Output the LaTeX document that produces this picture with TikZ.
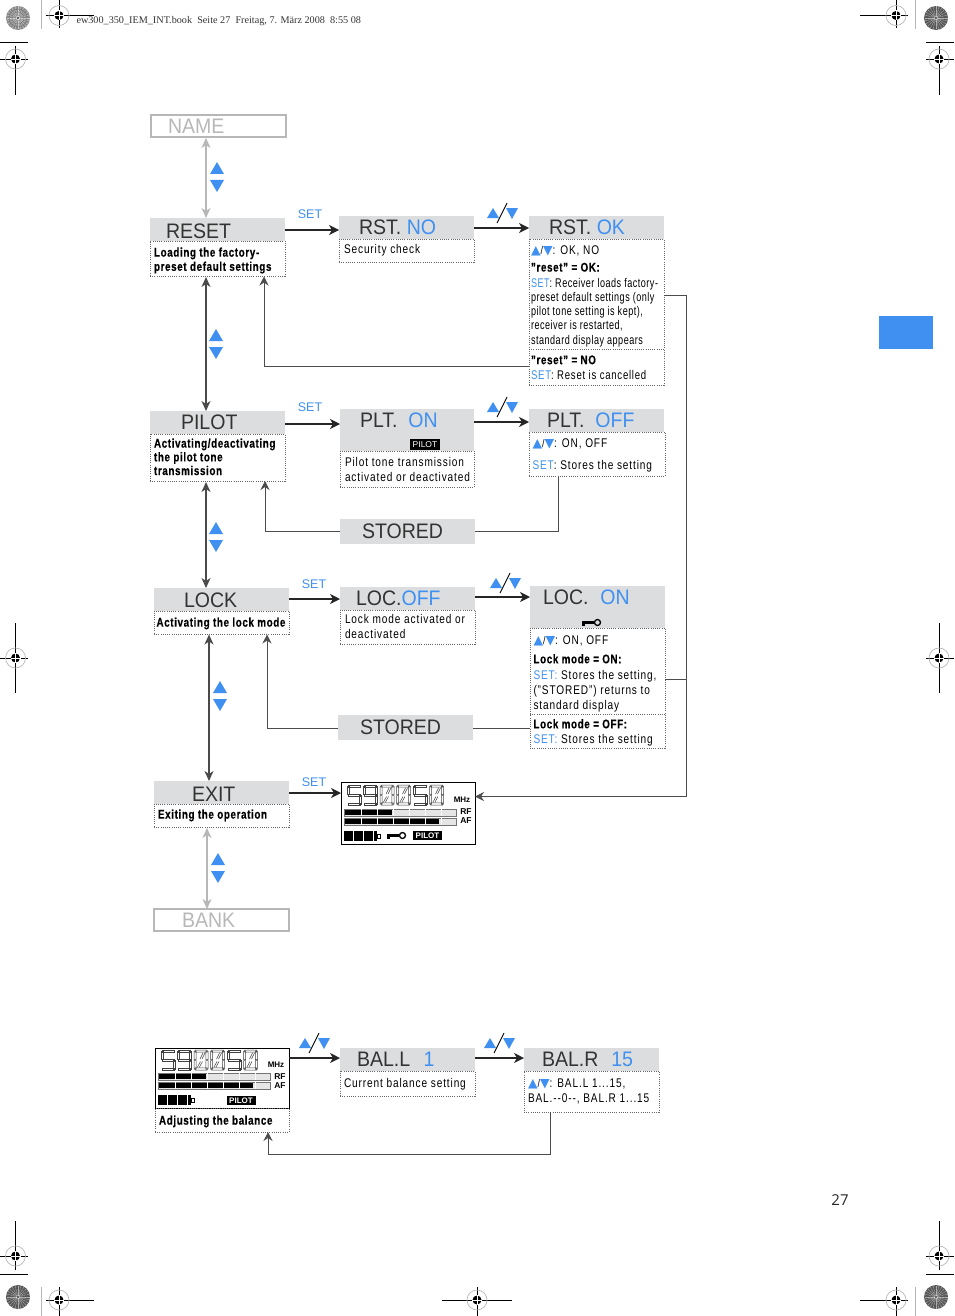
\documentclass[tikz,border=0pt]{standalone}
\usepackage{fontspec}
\usetikzlibrary{arrows.meta}
\setmainfont[FakeStretch=0.8,LetterSpace=7,BoldFeatures={FakeStretch=0.78,LetterSpace=5,FakeBold=0.4}]{Liberation Sans}
\newfontfamily\tightfont[FakeStretch=0.72,LetterSpace=4]{Liberation Sans}
\newfontfamily\medfont[FakeStretch=0.76,LetterSpace=6]{Liberation Sans}
\newfontfamily\ttlfont[FakeStretch=0.93]{Liberation Sans}
\newfontfamily\plainfont{Liberation Sans}
\newfontfamily\serfont{Liberation Serif}
\newfontfamily\symfont{DejaVu Sans}
\newfontfamily\numfont{Open Sans}
\definecolor{lb}{HTML}{3F90F0}
\definecolor{hdrg}{HTML}{DCDDDF}
\definecolor{lg}{HTML}{B7B7B7}
\definecolor{dk}{HTML}{4A4A4A}
\tikzset{
 every node/.style={outer sep=0pt},
 hdrbox/.style={fill=hdrg,inner sep=0pt,anchor=north west,text=black!80},
 ghostbox/.style={draw=lg,line width=1.6pt,inner sep=0pt,anchor=north west,text=lg},
 descbox/.style={draw=black!60,line width=.7pt,dash pattern=on 1pt off 1.2pt,inner sep=0pt,anchor=north west},
 setlab/.style={text=lb,inner sep=0pt,font=\plainfont\fontsize{12.5}{14}\selectfont},
 arr/.style={line width=1.1pt,black!85,-{Stealth[length=10pt,width=10pt,inset=3pt]}},
 darr/.style={line width=1.4pt,dk,{Stealth[length=10pt,width=9pt,inset=3pt]}-{Stealth[length=10pt,width=9pt,inset=3pt]}},
 garr/.style={line width=1.1pt,lg,{Stealth[length=10pt,width=9pt,inset=3pt]}-{Stealth[length=10pt,width=9pt,inset=3pt]}},
 loopline/.style={line width=.9pt,black!70},
 looparr/.style={line width=.9pt,black!70,-{Stealth[length=9pt,width=9pt,inset=3pt]}},
 regl/.style={line width=.9pt,black},
 lcdbox/.style={draw=black,line width=1pt,fill=white,inner sep=0pt,anchor=north west},
 inv/.style={fill=black,text=white,inner sep=0pt,font=\plainfont\bfseries\fontsize{8}{9}\selectfont},
}
\newcommand{\Ttl}[2]{\hspace*{#1pt}{\ttlfont\fontsize{21}{23}\selectfont #2}}
\newcommand{\Blue}[1]{\textcolor{lb}{#1}}
% [vspace] name x y w h pad text
\newcommand{\Hd}[7][4]{\node[hdrbox] (#2) at (#3,#4) {\parbox[t][#6pt][t]{#5pt}{\vspace*{#1pt}\noindent\Ttl{#7}}};}
\newcommand{\HdT}[8][4]{\node[hdrbox] (#2) at (#3,#4) {\parbox[t][#6pt][t]{#5pt}{\vspace*{#1pt}\noindent\Ttl{#7}{#8}}};}
\newcommand{\Gh}[7]{\node[ghostbox] (#1) at (#2,#3) {\parbox[t][#5pt][t]{#4pt}{\vspace*{4pt}\noindent\Ttl{#6}{#7}}};}
% name x y w h padx pady text
\newcommand{\Ds}[8]{\node[descbox] (#1) at (#2,#3) {\parbox[t][#5pt][t]{#4pt}{\vspace*{#7pt}\raggedright\leftskip=#6pt\rightskip=-30pt plus 1fil\parindent=0pt\lineskiplimit=-8pt\fontsize{12.6}{14.2}\selectfont #8\par}};}
\newcommand{\Tri}{{\color{lb}\symfont\fontsize{12.5}{10}\selectfont ▲}{\fontsize{11}{11}\selectfont/}{\color{lb}\symfont\fontsize{12.5}{10}\selectfont ▼}}
\newcommand{\UD}[2]{%
 \fill[lb] (#1-7,#2+12) -- (#1+7,#2+12) -- (#1,#2) -- cycle;
 \fill[lb] (#1-7,#2+18) -- (#1+7,#2+18) -- (#1,#2+30) -- cycle;}
\newcommand{\Pair}[2]{%
 \fill[lb] (#1,#2+10) -- (#1+12,#2+10) -- (#1+6,#2) -- cycle;
 \draw[black,line width=.9pt] (#1+10,#2+15) -- (#1+20,#2-5);
 \fill[lb] (#1+19,#2) -- (#1+31,#2) -- (#1+25,#2+11) -- cycle;}
\newcommand{\KeyIcon}[2]{%
 \fill[black] (#1,#2+2) rectangle (#1+12,#2+5);
 \fill[black] (#1,#2+2) rectangle (#1+3,#2+7);
 \draw[black,line width=1.3pt] (#1+15.5,#2+3.5) circle (3pt);}
\newcommand{\sT}{(1,0) rectangle (13,2.2)}
\newcommand{\sM}{(1,9) rectangle (13,11.2)}
\newcommand{\sB}{(1,17.8) rectangle (13,20)}
\newcommand{\sUL}{(0,1) rectangle (2.2,9.5)}
\newcommand{\sLL}{(0,10.7) rectangle (2.2,19)}
\newcommand{\sUR}{(11.8,1) rectangle (14,9.5)}
\newcommand{\sLR}{(11.8,10.7) rectangle (14,19)}
\newcommand{\SegD}[3]{%
 \begin{scope}[shift={(#1,#2)}]
 \draw[black!75,line width=.5pt] #3;
 \end{scope}}
\newcommand{\Five}{\sT \sUL \sM \sLR \sB}
\newcommand{\Nine}{\sT \sUL \sUR \sM \sLR \sB}
\newcommand{\Zero}{\sT \sUL \sUR \sLL \sLR \sB (3.5,17) -- (6.5,11.5) (5.5,17) -- (8.5,11.5) (6,9) -- (9,3) (8,9) -- (11,3)}
% left top barshift digitshift
\newcommand{\Lcd}[4]{%
 \begin{scope}[shift={(#1,#2)}]
 \SegD{6}{#4}{\Five}\SegD{22.5}{#4}{\Nine}\SegD{39}{#4}{\Zero}\SegD{55.5}{#4}{\Zero}\SegD{72}{#4}{\Five}\SegD{88.5}{#4}{\Zero}
 \begin{scope}[shift={(0,#3)}]
 \foreach \yy in {27,36}{
  \draw[black!55,line width=.6pt,fill=black!10] (3,\yy) rectangle (115,\yy+7);}
 \fill[black] (4,28) rectangle (51,33);
 \fill[black] (4,37) rectangle (98,42);
 \foreach \tx in {20,36,52,68,84,100}{
  \draw[white,line width=.6pt] (\tx,27) -- (\tx,34);
  \draw[white,line width=.6pt] (\tx,36) -- (\tx,43);}
 \fill[black] (3,49) rectangle (36,59);
 \foreach \tx in {12,22,32}{\draw[white,line width=.6pt] (\tx,49) -- (\tx,59);}
 \draw[black,line width=.8pt] (36,52) rectangle (39,56);
 \end{scope}
 \end{scope}}
\newcommand{\LcdLab}[3]{%
 \node[inner sep=0pt,font=\plainfont\bfseries\fontsize{8}{9}\selectfont] (#1mhz) at (#2+121,#3+18) {MHz};
 \node[inner sep=0pt,font=\plainfont\bfseries\fontsize{8.5}{9}\selectfont] (#1rf) at (#2+125,#3+30) {RF};
 \node[inner sep=0pt,font=\plainfont\bfseries\fontsize{8.5}{9}\selectfont] (#1af) at (#2+125,#3+39) {AF};}
\newcommand{\Reg}[3]{% x y, name
 \draw[lg,line width=.7pt] (#1,#2) circle (10pt);
 \fill[black] (#1,#2) circle (4.5pt);
 \draw[white,line width=.8pt] (#1-5,#2) -- (#1+5,#2) (#1,#2-5) -- (#1,#2+5);}
\newcommand{\Spin}[3]{%
 \fill[black!#3] (#1,#2) circle (12pt);
 \foreach \a in {0,15,...,345}{\draw[white,line width=.35pt,opacity=.55] (#1,#2) -- ++(\a:11.5pt);}
 \foreach \r in {3,6,9}{\draw[black!70,line width=.35pt,opacity=.6] (#1,#2) circle (\r pt);}
 \fill[black!80] (#1,#2) circle (1.2pt);}
\begin{document}
\begin{tikzpicture}[x=1pt,y=-1pt]
\useasboundingbox (0,0) rectangle (954,1316);
% ---- page furniture
\node[anchor=base west,inner sep=0pt,font=\serfont\fontsize{10.2}{11}\selectfont,text=black!80] (pagehead) at (76.5,23.5) {ew300\_350\_IEM\_INT.book\ \ Seite 27\ \ Freitag, 7. März 2008\ \ 8:55 08};
\node[anchor=base,inner sep=0pt,font=\numfont\fontsize{15}{16}\selectfont,text=black!85] (pagenum) at (840,1205) {27};
\fill[lb] (879,316) rectangle (933,349);
\Spin{18}{18}{45}\Spin{936}{18}{65}\Spin{18}{1297}{65}\Spin{936}{1297}{65}
\draw[lg,line width=.8pt] (41.5,0) -- (41.5,29) (41.5,1287) -- (41.5,1316) (915.5,0) -- (915.5,29) (915.5,1287) -- (915.5,1316);
\draw[regl] (46,15.5) -- (94,15.5) (59,0) -- (59,28);
\Reg{59}{15.5}{}
\draw[regl] (860,15.5) -- (908,15.5) (896,0) -- (896,28);
\Reg{896}{15.5}{}
\draw[regl] (0,42.5) -- (28,42.5) (0,59) -- (28,59) (15.5,46) -- (15.5,95);
\Reg{15.5}{59}{}
\draw[regl] (926,42.5) -- (954,42.5) (926,59) -- (954,59) (939,46) -- (939,95);
\Reg{939}{59}{}
\draw[regl] (0,658) -- (28,658) (15.5,623) -- (15.5,693);
\Reg{15.5}{658}{}
\draw[regl] (926,658) -- (954,658) (939,623) -- (939,693);
\Reg{939}{658}{}
\draw[regl] (0,1256) -- (28,1256) (0,1274.5) -- (28,1274.5) (15.5,1221) -- (15.5,1270);
\Reg{15.5}{1256}{}
\draw[regl] (926,1256) -- (954,1256) (926,1274.5) -- (954,1274.5) (939,1221) -- (939,1270);
\Reg{939}{1256}{}
\draw[regl] (46,1300) -- (94,1300) (59,1287) -- (59,1316);
\Reg{59}{1300}{}
\draw[regl] (860,1300) -- (908,1300) (896,1287) -- (896,1316);
\Reg{896}{1300}{}
\draw[regl] (442,1300) -- (512,1300) (477,1287) -- (477,1316);
\Reg{477}{1300}{}
% ---- left column
\Gh{name}{151}{115}{135}{22}{17}{NAME}
\HdT[6]{resethd}{150}{218}{135}{23}{16}{RESET}
\Ds{resetds}{150}{241}{135}{35}{4}{6.5}{\textbf{Loading the factory-\\preset default settings}}
\HdT{pilothd}{150}{411}{135}{23}{31}{PILOT}
\Ds{pilotds}{150}{434}{135}{47}{4}{4.5}{\textbf{Activating/deactivating\\[-.5pt]the pilot tone\\[-.5pt]transmission}}
\HdT[5]{lockhd}{154}{588}{135}{23}{30}{LOCK}
\Ds{lockds}{154}{611}{135}{23}{2.5}{6.5}{\textbf{Activating the lock mode}}
\HdT[6]{exithd}{154}{781}{135}{23}{38}{EXIT}
\Ds{exitds}{154}{804}{135}{23}{4}{5.5}{\textbf{Exiting the operation}}
\Gh{bank}{154}{909}{135}{22}{28}{BANK}
% ---- middle column
\HdT{rstnohd}{339}{216}{135}{23}{20}{RST. \Blue{NO}}
\Ds{rstnods}{339}{239}{135}{23}{5}{5.5}{Security check}
\HdT{plthd}{340}{409}{134}{42}{20}{PLT.\ \ \Blue{ON}}
\node[inv,minimum width=30pt,minimum height=11pt,font=\plainfont\fontsize{8.5}{9}\selectfont] (pilotflag) at (425,444.5) {PILOT};
\Ds{pltds}{340}{451}{134}{36}{5}{6}{Pilot tone transmission\\[.8pt]activated or deactivated}
\node[hdrbox,minimum width=135pt,minimum height=25pt] (stored1) at (340,519) {\parbox[t][25pt][t]{135pt}{\vspace*{4.5pt}\noindent\Ttl{22}{STORED}}};
\HdT{locoffhd}{340}{587}{135}{23}{16}{LOC.\Blue{OFF}}
\Ds{locoffds}{340}{610}{135}{34}{5}{4}{Lock mode activated or\\[.8pt]deactivated}
\node[hdrbox,minimum width=135pt,minimum height=25pt] (stored2) at (338,715) {\parbox[t][25pt][t]{135pt}{\vspace*{4.5pt}\noindent\Ttl{22}{STORED}}};
\node[lcdbox,minimum width=134pt,minimum height=62pt] (lcdone) at (341,782) {};
\Lcd{341}{782}{0}{3}
\LcdLab{lone}{341}{782}
\KeyIcon{387}{832}
\node[inv,minimum width=29pt,minimum height=9.5pt] (pilotone) at (427.5,835.5) {PILOT};
% ---- right column
\HdT{rstokhd}{529}{216}{135}{23}{20}{RST. \Blue{OK}}
\Ds{rstokds}{529}{239}{135}{146}{2}{7}{\Tri: OK, NO\\[2.6pt]
\textbf{"reset" = OK:}\\[1.6pt]
{\tightfont\Blue{SET}: Receiver loads factory-}\\
{\tightfont preset default settings (only}\\
{\tightfont pilot tone setting is kept),}\\
{\tightfont receiver is restarted,}\\
{\tightfont standard display appears}\\[5.8pt]
\textbf{"reset" = NO}\\[.8pt]
{\medfont\Blue{SET}:\ Reset is cancelled}}
\coordinate (rl1) at (529,349.5); \coordinate (rl2) at (664,349.5);
\draw[descbox] (rl1) -- (rl2);
\HdT{pltoffhd}{529}{409}{135}{23}{18}{PLT.\ \ \Blue{OFF}}
\Ds{pltoffds}{529}{432}{136}{44}{3.5}{6.5}{\Tri: ON, OFF\\[7.8pt]\Blue{SET}: Stores the setting}
\node[hdrbox] (loconhd) at (530,586) {\parbox[t][42pt][t]{135pt}{\vspace*{4pt}\noindent\Ttl{13}{LOC.\ \ \hspace{1pt}\Blue{ON}}}};
\KeyIcon{582}{619}
\Ds{loconds}{530}{628}{135}{120}{3.5}{7.5}{\Tri: ON, OFF\\[4.8pt]
\textbf{Lock mode = ON:}\\[1.8pt]
\Blue{SET:} Stores the setting,\\[.8pt]
("STORED") returns to\\[.8pt]
standard display\\[4.8pt]
\textbf{Lock mode = OFF:}\\[.8pt]
\Blue{SET:} Stores the setting}
\coordinate (ll1) at (530,714.5); \coordinate (ll2) at (665,714.5);
\draw[descbox] (ll1) -- (ll2);
% ---- balance row
\node[lcdbox,minimum width=134pt,minimum height=60pt] (lcdtwo) at (155,1048) {};
\Lcd{155}{1048}{-2}{2}
\LcdLab{ltwo}{155}{1047}
\node[inv,minimum width=29pt,minimum height=9.5pt] (pilottwo) at (241,1100.5) {PILOT};
\Ds{balds}{155}{1108}{134}{24}{4}{7.5}{\textbf{Adjusting the balance}}
\HdT{ballhd}{340}{1048}{135}{23}{17}{BAL.L\ \ \hspace{2.5pt}\Blue{1}}
\Ds{ballds}{340}{1071}{135}{25}{4}{7.5}{Current balance setting}
\HdT{balrhd}{524}{1048}{135}{23}{18}{BAL.R\ \ \hspace{2pt}\Blue{15}}
\Ds{balrds}{524}{1071}{135}{41}{4}{7.5}{\Tri: BAL.L 1...15,\\[.8pt]BAL.{-}{-}0{-}{-}, BAL.R 1...15}
% ---- SET labels
\node[setlab] (set1) at (310,214.5) {SET};
\node[setlab] (set2) at (310,407.5) {SET};
\node[setlab] (set3) at (314,584.5) {SET};
\node[setlab] (set4) at (314,782.5) {SET};
% ---- horizontal connectors
\draw[arr] (resethd.east |- 0,230) -- (rstnohd.west |- 0,230);
\draw[arr] (rstnohd.east |- 0,228) -- (rstokhd.west |- 0,228);
\draw[arr] (pilothd.east |- 0,424) -- (plthd.west |- 0,424);
\draw[arr] (plthd.east |- 0,422) -- (pltoffhd.west |- 0,422);
\draw[arr] (lockhd.east |- 0,599) -- (locoffhd.west |- 0,599);
\draw[arr] (locoffhd.east |- 0,597) -- (loconhd.west |- 0,597);
\draw[arr] (exithd.east |- 0,793) -- (lcdone.west |- 0,793);
\draw[arr] (lcdtwo.east |- 0,1058) -- (ballhd.west |- 0,1058);
\draw[arr] (ballhd.east |- 0,1058) -- (balrhd.west |- 0,1058);
% ---- vertical connectors
\draw[garr] (206,138) -- (206,218);
\draw[darr] (206,277) -- (206,411);
\draw[darr,line width=1.1pt] (206,482) -- (206,588);
\draw[darr,line width=1.1pt] (209,634.5) -- (209,781);
\draw[garr] (207,828) -- (207,909);
% ---- loops
\coordinate (a1) at (529,366); \coordinate (a2) at (264,366); \coordinate (a3) at (264,276.5);
\draw[looparr] (a1) -- (a2) -- (a3);
\coordinate (b1) at (558,476.5); \coordinate (b2) at (558,531); \coordinate (b3) at (265,531); \coordinate (b4) at (265,481);
\draw[loopline] (b1) -- (b2) -- (stored1.east |- b2);
\draw[looparr] (stored1.west |- b3) -- (b3) -- (b4);
\coordinate (c1) at (530,728); \coordinate (c2) at (267,728); \coordinate (c3) at (267,634.5);
\draw[loopline] (stored2.east |- c1) -- (c1);
\draw[looparr] (stored2.west |- c2) -- (c2) -- (c3);
\coordinate (d1) at (664,295.5); \coordinate (d2) at (686.5,295.5); \coordinate (d3) at (686.5,796.5);
\draw[looparr] (d1) -- (d2) -- (d3) -- (lcdone.east |- d3);
\coordinate (d4) at (665,679); 
\draw[loopline] (d4) -- (d2 |- d4);
\coordinate (e1) at (550,1112); \coordinate (e2) at (550,1154.5); \coordinate (e3) at (268,1154.5); \coordinate (e4) at (268,1132);
\draw[looparr] (e1) -- (e2) -- (e3) -- (e4);
% ---- up/down marks
\UD{217}{162}\UD{216}{329}\UD{216}{522}\UD{220}{681}\UD{218}{853}
\Pair{487}{208}\Pair{487}{402}\Pair{490}{578}\Pair{299}{1038}\Pair{484}{1038}
\end{tikzpicture}
\end{document}
